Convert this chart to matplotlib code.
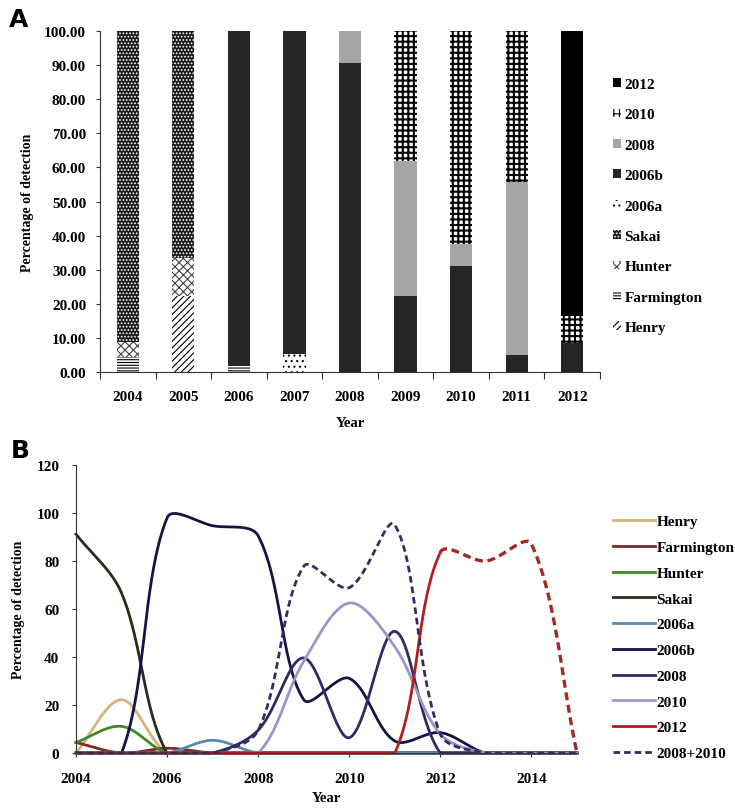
import numpy as np
import matplotlib
matplotlib.use("Agg")
import matplotlib.pyplot as plt

plt.rcParams['font.family'] = ['Liberation Serif', 'DejaVu Serif']
plt.rcParams['font.weight'] = 'bold'
plt.rcParams['axes.labelweight'] = 'bold'
plt.rcParams['hatch.linewidth'] = 0.8

# Panel A data: percentage of detection per year
years_a = ['2004', '2005', '2006', '2007', '2008', '2009', '2010', '2011', '2012']
henry = [0, 22.2, 0, 0, 0, 0, 0, 0, 0]
farmington = [4.4, 0, 2.0, 0, 0, 0, 0, 0, 0]
hunter = [4.4, 11.1, 0, 0, 0, 0, 0, 0, 0]
sakai = [91.2, 66.7, 0, 0, 0, 0, 0, 0, 0]
s2006a = [0, 0, 0, 5.3, 0, 0, 0, 0, 0]
s2006b = [0, 0, 98.0, 94.7, 90.5, 22.2, 31.1, 5.0, 8.5]
s2008 = [0, 0, 0, 0, 9.5, 39.6, 6.4, 50.7, 0]
s2010 = [0, 0, 0, 0, 0, 38.2, 62.5, 44.3, 7.9]
s2012 = [0, 0, 0, 0, 0, 0, 0, 0, 83.6]

# Panel B extends to 2015
years_b = list(range(2004, 2016))
extra_zero = [0, 0, 0]
proj_2012 = [80, 87, 0]   # dashed continuation 2013-2015

names = ['Henry', 'Farmington', 'Hunter', 'Sakai', '2006a', '2006b', '2008', '2010', '2012']
series_a = [henry, farmington, hunter, sakai, s2006a, s2006b, s2008, s2010, s2012]

# bar styles (face, hatch colour, hatch, hatch width)
bar_styles = {
    'Henry': ('white', 'black', '/////', 0.8),
    'Farmington': ('white', 'black', '------', 0.8),
    'Hunter': ('white', '#444444', 'xxxx', 0.8),
    'Sakai': ('#1c1c1c', 'white', '.....', 0.8),
    '2006a': ('white', 'black', '...', 0.8),
    '2006b': ('#262626', '#262626', None, 0.8),
    '2008': ('#a6a6a6', '#a6a6a6', None, 0.8),
    '2010': ('white', 'black', '+++', 1.5),
    '2012': ('black', 'black', None, 0.8),
}

line_colors = {
    'Henry': '#d8b27a',
    'Farmington': '#7d2a2a',
    'Hunter': '#3f8a26',
    'Sakai': '#2a2a1e',
    '2006a': '#5a8ab0',
    '2006b': '#141448',
    '2008': '#2f2a66',
    '2010': '#9c95c6',
    '2012': '#b02020',
}

FIG_W, FIG_H = 735, 812
B_RECT = [0.1034, 0.0714, 0.6816, 0.3547]
SX = B_RECT[2] * FIG_W / 11.0     # px per year
SY = B_RECT[3] * FIG_H / 120.0    # px per percent


def smooth(x, y, n=40):
    # spreadsheet-like smoothed line: bezier with chord-length weighted tangents
    x = np.asarray(x, float)
    y = np.asarray(y, float)
    t = np.linspace(0, 1, n)

    def dist(a, b):
        return np.hypot((x[b] - x[a]) * SX, (y[b] - y[a]) * SY)

    xs, ys = [], []
    for i in range(len(x) - 1):
        i0 = i - 1 if i > 0 else i
        i3 = i + 2 if i + 2 < len(x) else i + 1
        d01, d12, d23 = dist(i0, i), dist(i, i + 1), dist(i + 1, i3)
        f1 = d12 / (d01 + d12) / 3
        f2 = d12 / (d12 + d23) / 3
        c1x = x[i] + (x[i + 1] - x[i0]) * f1
        c1y = y[i] + (y[i + 1] - y[i0]) * f1
        c2x = x[i + 1] - (x[i3] - x[i]) * f2
        c2y = y[i + 1] - (y[i3] - y[i]) * f2
        b0 = (1 - t) ** 3
        b1 = 3 * (1 - t) ** 2 * t
        b2 = 3 * (1 - t) * t ** 2
        b3 = t ** 3
        xs.append(b0 * x[i] + b1 * c1x + b2 * c2x + b3 * x[i + 1])
        ys.append(b0 * y[i] + b1 * c1y + b2 * c2y + b3 * y[i + 1])
    return np.concatenate(xs), np.clip(np.concatenate(ys), 0, None)


fig = plt.figure(figsize=(FIG_W / 100, FIG_H / 100), dpi=100)

# ---------------- Panel A ----------------
axA = fig.add_axes([0.1361, 0.5406, 0.6803, 0.42])
pos = np.arange(len(years_a))
bottom = np.zeros(len(years_a))
handles = []
for name, vals in zip(names, series_a):
    face, hc, hatch, hlw = bar_styles[name]
    with plt.rc_context({'hatch.linewidth': hlw}):
        b = axA.bar(pos, vals, 0.4, bottom=bottom, color=face, edgecolor=hc,
                    hatch=hatch, linewidth=0, label=name)
    handles.append(b)
    bottom += np.array(vals)

axA.set_xlim(-0.5, len(years_a) - 0.5)
axA.set_ylim(0, 100)
axA.set_yticks(np.arange(0, 101, 10))
axA.set_yticklabels(['%.2f' % v for v in np.arange(0, 101, 10)], fontsize=11)
axA.set_xticks(np.arange(-0.5, len(years_a), 1))
axA.set_xticklabels([])
axA.set_xticks(pos, minor=True)
axA.set_xticklabels(years_a, minor=True, fontsize=11)
axA.tick_params(axis='x', which='major', length=5, direction='out', color='#333333')
axA.tick_params(axis='x', which='minor', length=0, pad=13)
axA.tick_params(axis='y', length=3, color='#333333', pad=7)
for s in ['top', 'right']:
    axA.spines[s].set_visible(False)
for s in ['left', 'bottom']:
    axA.spines[s].set_color('#333333')
axA.set_ylabel('Percentage of detection', fontsize=10, labelpad=7)
axA.set_xlabel('Year', fontsize=10.5, labelpad=9)
fig.legend(handles[::-1], names[::-1], loc='center left',
           bbox_to_anchor=(0.834, 0.745), bbox_transform=fig.transFigure,
           frameon=False, fontsize=11, handlelength=0.5, handleheight=0.5,
           handletextpad=0.25, labelspacing=1.14, borderpad=0, borderaxespad=0)
fig.text(0.012, 0.975, 'A', fontsize=18, fontweight='bold', family='DejaVu Sans', va='center')

# ---------------- Panel B ----------------
axB = fig.add_axes(B_RECT)
for name, vals in zip(names, series_a):
    yb = list(vals) + extra_zero
    if name == '2012':
        yb = list(vals) + proj_2012
    xs, ys = smooth(years_b, yb)
    col = line_colors[name]
    if name == '2012':
        m = xs <= 2012
        axB.plot(xs[m], ys[m], color=col, lw=2.0, label=name, clip_on=False)
        axB.plot(xs[xs >= 2012], ys[xs >= 2012], color='#a52828', lw=2.4,
                 ls=(0, (2.4, 1.4)), clip_on=False)
    else:
        axB.plot(xs, ys, color=col, lw=2.0, label=name, clip_on=False)

combo = [a + b for a, b in zip(s2008, s2010)] + extra_zero
xs, ys = smooth(years_b, combo)
axB.plot(xs, ys, color='#332e5e', lw=2.0, ls=(0, (2.4, 1.4)), label='2008+2010', clip_on=False)

axB.set_xlim(2004, 2015)
axB.set_ylim(0, 120)
axB.set_yticks(np.arange(0, 121, 20))
axB.set_xticks(np.arange(2004, 2015, 2))
axB.tick_params(labelsize=11, length=3, color='#333333')
axB.tick_params(axis='y', pad=9)
axB.tick_params(axis='x', pad=11)
for s in ['top', 'right']:
    axB.spines[s].set_visible(False)
for s in ['left', 'bottom']:
    axB.spines[s].set_color('#333333')
axB.set_ylabel('Percentage of detection', fontsize=10, labelpad=8)
axB.set_xlabel('Year', fontsize=10.5, labelpad=4)
hb, lb = axB.get_legend_handles_labels()
fig.legend(hb, lb, loc='center left', bbox_to_anchor=(0.834, 0.2137),
           bbox_transform=fig.transFigure, frameon=False, fontsize=11,
           handlelength=2.75, handletextpad=0.1, labelspacing=0.79,
           borderpad=0, borderaxespad=0)
fig.text(0.014, 0.445, 'B', fontsize=18, fontweight='bold', family='DejaVu Sans', va='center')

fig.savefig('out.png', dpi=100)
